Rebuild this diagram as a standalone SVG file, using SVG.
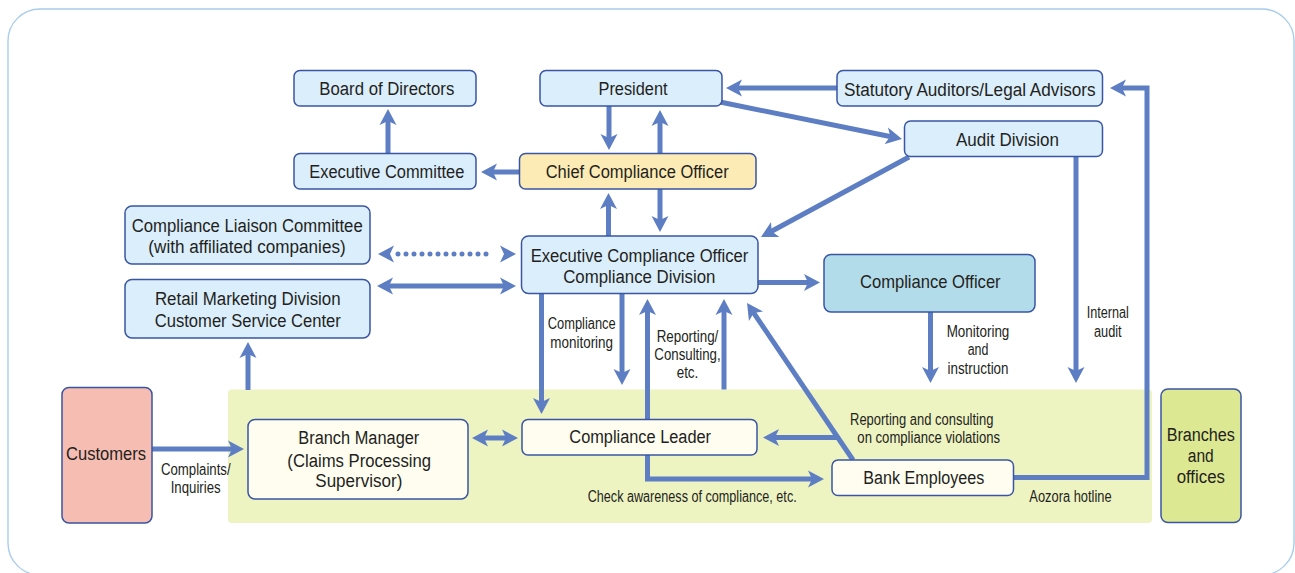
<svg xmlns="http://www.w3.org/2000/svg" width="1295" height="573" viewBox="0 0 1295 573">
  <defs>
    <marker id="ah" viewBox="0 -9 17 18" refX="5" refY="0" markerWidth="17" markerHeight="18" markerUnits="userSpaceOnUse" orient="auto-start-reverse">
      <path d="M0,-8.5 L16,0 L0,8.5 L4,0 Z" fill="#5d7ec3"/>
    </marker>
    <style>
      .frame { fill: #ffffff; stroke: #a9cdea; stroke-width: 1.4; }
      .band { fill: #eef3c2; }
      .box { stroke: #3a55a4; stroke-width: 1.5; }
      .blue { fill: #dbeefc; }
      .gold { fill: #fdebb6; }
      .teal { fill: #b3dcea; }
      .cream { fill: #fefdf0; }
      .pink { fill: #f6bdb2; }
      .lime { fill: #dde893; }
      .lbl { font-family: "Liberation Sans", Arial, sans-serif; font-size: 18px; fill: #231f20; text-anchor: middle; }
      .big { font-size: 19px; }
      .sm { font-family: "Liberation Sans", Arial, sans-serif; font-size: 16px; fill: #231f20; text-anchor: middle; }
      .wire { fill: none; stroke: #5d7ec3; stroke-width: 5; }
      .arr { marker-end: url(#ah); }
      .both { marker-start: url(#ah); marker-end: url(#ah); }
      .dots { fill: none; stroke: #5d7ec3; stroke-width: 5; stroke-linecap: round; stroke-dasharray: 0 8; }
    </style>
  </defs>

  <!-- outer panel -->
  <rect class="frame" x="8" y="9" width="1286" height="566" rx="32"/>
  <!-- branches area -->
  <rect class="band" x="228" y="389.5" width="924" height="133.5" rx="4"/>

  <!-- connectors -->
  <g id="connectors">
    <path class="wire arr" d="M388,153 V120"/>
    <path class="wire arr" d="M609,106 V139"/>
    <path class="wire arr" d="M660,153 V121"/>
    <path class="wire arr" d="M519,172 H492"/>
    <path class="wire arr" d="M837,88 H737"/>
    <path class="wire arr" d="M720,102 L891.2,136.8"/>
    <path class="wire arr" d="M909,157 L770.7,231.8"/>
    <path class="wire arr" d="M1076,157 V372"/>
    <path class="wire arr" d="M1013,477.5 H1147 V88 H1121"/>
    <path class="wire arr" d="M608.5,236 V204"/>
    <path class="wire arr" d="M660,189 V221"/>
    <path class="both" fill="none" stroke="none" d="M389,254 H505"/>
    <path class="dots" d="M398,254 H494"/>
    <path class="wire both" d="M388,286 H505"/>
    <path class="wire arr" d="M248,390 V353"/>
    <path class="wire arr" d="M758,282.5 H809"/>
    <path class="wire arr" d="M930.5,312 V372"/>
    <path class="wire arr" d="M541.5,293 V403"/>
    <path class="wire arr" d="M622,293 V374"/>
    <path class="wire arr" d="M647.5,419 V310"/>
    <path class="wire arr" d="M647.5,455 V479 H813"/>
    <path class="wire arr" d="M724,389.5 V310"/>
    <path class="wire arr" d="M853,460 L753.2,312.1"/>
    <path class="wire arr" d="M838,437.5 H774"/>
    <path class="wire arr" d="M152,449 H233"/>
    <path class="wire both" d="M483,438 H507"/>
  </g>

  <!-- connector labels -->
  <g id="connector-labels">
    <text class="sm" x="581.7" y="329.3" textLength="68" lengthAdjust="spacingAndGlyphs">Compliance</text>
    <text class="sm" x="581.7" y="348.3" textLength="62.7" lengthAdjust="spacingAndGlyphs">monitoring</text>
    <text class="sm" x="687.5" y="341.7" textLength="61.7" lengthAdjust="spacingAndGlyphs">Reporting/</text>
    <text class="sm" x="687.5" y="360" textLength="66.3" lengthAdjust="spacingAndGlyphs">Consulting,</text>
    <text class="sm" x="687.5" y="378.3" textLength="21.7" lengthAdjust="spacingAndGlyphs">etc.</text>
    <text class="sm" x="978" y="337.3" textLength="62.7" lengthAdjust="spacingAndGlyphs">Monitoring</text>
    <text class="sm" x="978" y="355" textLength="20.7" lengthAdjust="spacingAndGlyphs">and</text>
    <text class="sm" x="978" y="374" textLength="61" lengthAdjust="spacingAndGlyphs">instruction</text>
    <text class="sm" x="1107.8" y="318.3" textLength="42.3" lengthAdjust="spacingAndGlyphs">Internal</text>
    <text class="sm" x="1107.8" y="337.3" textLength="27.7" lengthAdjust="spacingAndGlyphs">audit</text>
    <text class="sm" x="921.7" y="425" textLength="143.3" lengthAdjust="spacingAndGlyphs">Reporting and consulting</text>
    <text class="sm" x="928.7" y="443.3" textLength="142.7" lengthAdjust="spacingAndGlyphs">on compliance violations</text>
    <text class="sm" x="692.2" y="501.7" textLength="209" lengthAdjust="spacingAndGlyphs">Check awareness of compliance, etc.</text>
    <text class="sm" x="195.8" y="475" textLength="69.7" lengthAdjust="spacingAndGlyphs">Complaints/</text>
    <text class="sm" x="195.7" y="493.3" textLength="50" lengthAdjust="spacingAndGlyphs">Inquiries</text>
    <text class="sm" x="1070.5" y="501.7" textLength="82.3" lengthAdjust="spacingAndGlyphs">Aozora hotline</text>
  </g>

  <g id="board">
    <rect class="box blue" x="294" y="70.5" width="182" height="35.5" rx="6"/>
    <text class="lbl" x="386.8" y="95" textLength="135" lengthAdjust="spacingAndGlyphs">Board of Directors</text>
  </g>
  <g id="president">
    <rect class="box blue" x="540" y="70.5" width="182" height="35.5" rx="6"/>
    <text class="lbl" x="633" y="95" textLength="69" lengthAdjust="spacingAndGlyphs">President</text>
  </g>
  <g id="statutory-auditors">
    <rect class="box blue" x="837" y="70.5" width="265.5" height="35.5" rx="6"/>
    <text class="lbl" x="969.8" y="96" textLength="251.7" lengthAdjust="spacingAndGlyphs">Statutory Auditors/Legal Advisors</text>
  </g>
  <g id="audit-division">
    <rect class="box blue" x="904.5" y="121" width="198" height="35.5" rx="6"/>
    <text class="lbl" x="1007.5" y="146" textLength="103" lengthAdjust="spacingAndGlyphs">Audit Division</text>
  </g>
  <g id="executive-committee">
    <rect class="box blue" x="294" y="153.5" width="182" height="35.5" rx="6"/>
    <text class="lbl" x="386.8" y="178.3" textLength="155" lengthAdjust="spacingAndGlyphs">Executive Committee</text>
  </g>
  <g id="chief-compliance-officer">
    <rect class="box gold" x="519.5" y="153.5" width="236.5" height="35.5" rx="6"/>
    <text class="lbl" x="637.2" y="178.3" textLength="183" lengthAdjust="spacingAndGlyphs">Chief Compliance Officer</text>
  </g>
  <g id="liaison-committee">
    <rect class="box blue" x="125" y="206" width="245" height="58" rx="7"/>
    <text class="lbl" x="247.2" y="231.7" textLength="231" lengthAdjust="spacingAndGlyphs">Compliance Liaison Committee</text>
    <text class="lbl" x="247" y="252.7" textLength="197.3" lengthAdjust="spacingAndGlyphs">(with affiliated companies)</text>
  </g>
  <g id="retail-marketing">
    <rect class="box blue" x="125" y="279.5" width="245" height="58.5" rx="7"/>
    <text class="lbl" x="247.8" y="305" textLength="185.7" lengthAdjust="spacingAndGlyphs">Retail Marketing Division</text>
    <text class="lbl" x="247.8" y="326.7" textLength="186" lengthAdjust="spacingAndGlyphs">Customer Service Center</text>
  </g>
  <g id="compliance-division">
    <rect class="box blue" x="521.5" y="236" width="236.5" height="57.5" rx="7"/>
    <text class="lbl" x="639.5" y="261.7" textLength="217.7" lengthAdjust="spacingAndGlyphs">Executive Compliance Officer</text>
    <text class="lbl" x="639.3" y="282.7" textLength="152.3" lengthAdjust="spacingAndGlyphs">Compliance Division</text>
  </g>
  <g id="compliance-officer">
    <rect class="box teal" x="824" y="254.5" width="211" height="57.5" rx="7"/>
    <text class="lbl big" x="930.3" y="288.3" textLength="140.7" lengthAdjust="spacingAndGlyphs">Compliance Officer</text>
  </g>
  <g id="customers">
    <rect class="box pink" x="62" y="387.5" width="90" height="135.5" rx="7"/>
    <text class="lbl big" x="106" y="460" textLength="80" lengthAdjust="spacingAndGlyphs">Customers</text>
  </g>
  <g id="branch-manager">
    <rect class="box cream" x="248" y="419.5" width="220" height="79.5" rx="7"/>
    <text class="lbl" x="358.8" y="444" textLength="121" lengthAdjust="spacingAndGlyphs">Branch Manager</text>
    <text class="lbl" x="359.2" y="467.3" textLength="143.7" lengthAdjust="spacingAndGlyphs">(Claims Processing</text>
    <text class="lbl" x="358.8" y="487.3" textLength="87" lengthAdjust="spacingAndGlyphs">Supervisor)</text>
  </g>
  <g id="compliance-leader">
    <rect class="box cream" x="522" y="419.5" width="235" height="35.5" rx="6"/>
    <text class="lbl" x="640.2" y="443.3" textLength="141.7" lengthAdjust="spacingAndGlyphs">Compliance Leader</text>
  </g>
  <g id="bank-employees">
    <rect class="box cream" x="832" y="460" width="181.5" height="35.5" rx="6"/>
    <text class="lbl" x="923.8" y="484" textLength="121" lengthAdjust="spacingAndGlyphs">Bank Employees</text>
  </g>
  <g id="branches-offices">
    <rect class="box lime" x="1161" y="389" width="80" height="133.5" rx="7"/>
    <text class="lbl" x="1200.8" y="440.7" textLength="68.3" lengthAdjust="spacingAndGlyphs">Branches</text>
    <text class="lbl" x="1200.8" y="461.7" textLength="26" lengthAdjust="spacingAndGlyphs">and</text>
    <text class="lbl" x="1200.8" y="482.7" textLength="48.3" lengthAdjust="spacingAndGlyphs">offices</text>
  </g>
</svg>
